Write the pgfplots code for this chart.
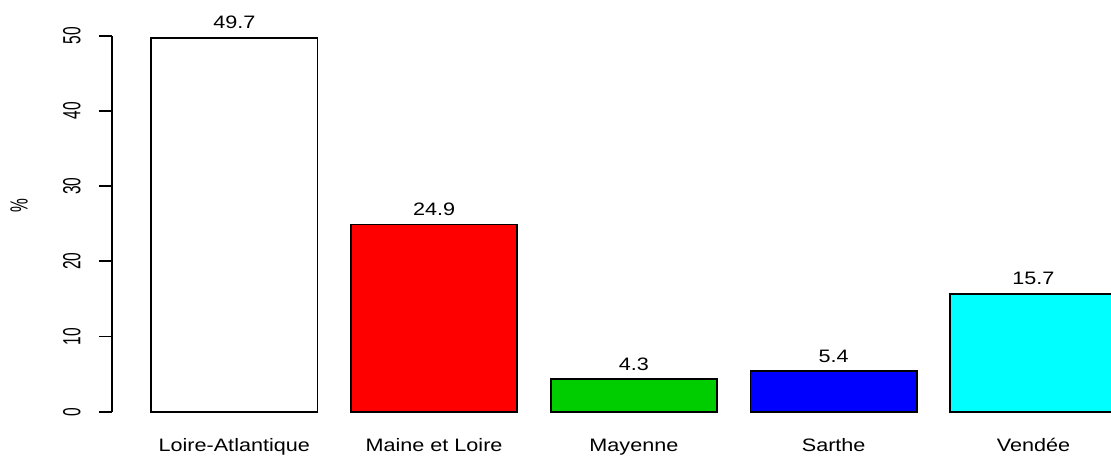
\documentclass[border=0pt]{standalone}
\usepackage{fontspec}
\setmainfont{Liberation Sans}
\usepackage{pgfplots}
\pgfplotsset{compat=1.18}
\newcommand{\hfont}{\fontsize{9pt}{10pt}\selectfont}
\newcommand{\vfont}{\fontsize{7.75pt}{8pt}\selectfont}
\definecolor{rgreen}{RGB}{0,205,0}
\definecolor{rred}{RGB}{255,0,0}
\definecolor{rblue}{RGB}{0,0,255}
\definecolor{rcyan}{RGB}{0,255,255}
\begin{document}
\begin{tikzpicture}
\begin{axis}[
  name=ax,
  at={(0,0)}, anchor=south west,
  scale only axis, width=499.5pt, height=205.85pt,
  xmin=-0.612, xmax=4.388, ymin=0, ymax=54.75,
  clip=false,
  axis x line*=bottom, axis y line*=left,
  axis line style={draw=none},
  /pgf/number format/assume math mode=true,
  xtick={0,1,2,3,4},
  xticklabels={Loire-Atlantique, Maine et Loire, Mayenne, Sarthe, Vendée},
  ytick={0,10,20,30,40,50},
  tick align=outside,
  major tick length=6.5pt,
  xtick style={draw=none},
  ytick style={black, line width=0.9pt},
  yticklabel style={font=\vfont, inner sep=0pt, anchor=base, xshift=-9.25pt, xscale=1.6, rotate=90},
  xticklabel style={font=\hfont, inner sep=0pt, anchor=base, yshift=-13.15pt, xscale=1.2},
  nodes near coords,
  every node near coord/.append style={font=\hfont, inner sep=0pt, anchor=base, yshift=4.5pt, xscale=1.2, text=black},
  ylabel={\%},
  every axis y label/.style={at={(axis description cs:0,0.5)}, xshift=-46.5pt, anchor=center, inner sep=0pt, font=\vfont, xscale=1.6, rotate=90},
  ybar, bar width=0.8333, bar shift=0pt,
]
\addplot[fill=white, draw=black, line width=0.9pt] coordinates {(0,49.7)};
\addplot[fill=rred, draw=black, line width=0.9pt] coordinates {(1,24.9)};
\addplot[fill=rgreen, draw=black, line width=0.9pt] coordinates {(2,4.3)};
\addplot[fill=rblue, draw=black, line width=0.9pt] coordinates {(3,5.4)};
\addplot[fill=rcyan, draw=black, line width=0.9pt] coordinates {(4,15.7)};
\draw[line width=0.9pt] (axis cs:-0.612,0) -- (axis cs:-0.612,50);
\end{axis}
\pgfresetboundingbox
\path[use as bounding box] (-56pt,-22.15pt) rectangle (499.5pt,205.85pt);
\end{tikzpicture}
\end{document}
